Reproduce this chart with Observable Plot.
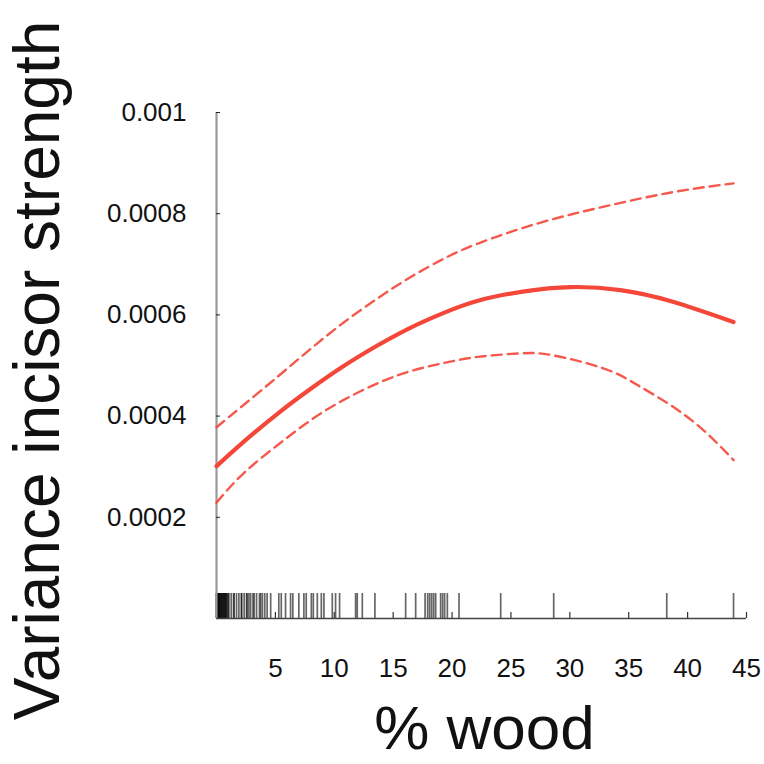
<!DOCTYPE html>
<html><head><meta charset="utf-8">
<script src="https://cdn.jsdelivr.net/npm/d3@7"></script>
<script src="https://cdn.jsdelivr.net/npm/@observablehq/plot@0.6"></script>
<style>body{margin:0;background:#fff} svg{display:block}</style>
</head><body><div id="chart"></div>
<script>
// fitted curve (x = % wood)
const fitX   = [0, 2.3, 5.2, 8, 10.8, 13.7, 16.5, 19.3, 22.2, 26, 30.1, 34.3, 38.6, 43.9];
const fitY   = [0.000301, 0.000349, 0.000405, 0.000454, 0.000499, 0.000540, 0.000575, 0.000604, 0.000628, 0.000646, 0.000655, 0.000649, 0.000627, 0.000586];
// upper confidence band
const upperX = [0, 2.3, 5.2, 8, 10.8, 13.7, 16.5, 19.3, 22.2, 27.3, 32.9, 38.6, 43.9];
const upperY = [0.000378, 0.000422, 0.000478, 0.000533, 0.000585, 0.000633, 0.000675, 0.000711, 0.000741, 0.000781, 0.000814, 0.000842, 0.000860];
// lower confidence band
const lowerX = [0, 2.3, 5.2, 8, 10.8, 13.7, 16.5, 19.3, 22.2, 25.8, 28.6, 32.9, 35.7, 38.6, 41.4, 43.9];
const lowerY = [0.000229, 0.000287, 0.000343, 0.000392, 0.000432, 0.000465, 0.000489, 0.000505, 0.000517, 0.000524, 0.000520, 0.000494, 0.000462, 0.000421, 0.000371, 0.000313];
// rug of observed % wood values
const rugX = [0, 0, 0.02, 0.05, 0.08, 0.1, 0.15, 0.2, 0.22, 0.25, 0.3, 0.35, 0.4, 0.45, 0.5, 0.55, 0.6, 0.65, 0.7, 0.75, 0.8, 0.85, 0.9, 1.0, 1.05,
  1.25, 1.45, 1.5, 1.7, 1.9, 2.1, 2.15, 2.35, 2.55, 2.6, 2.75, 2.9, 3.1, 3.2, 3.4, 3.65, 3.75, 3.9, 4.1, 4.3, 4.6,
  5.29, 5.5, 5.86, 6.29, 6.48, 6.99, 7.42, 7.62, 8.05, 8.22, 8.56, 8.9, 9.12, 9.83, 10.11, 10.45,
  11.81, 11.95, 12.38, 13.45, 16.06, 16.91, 17.71, 17.93, 18.1, 18.27, 18.44, 18.61, 19.03, 19.2, 19.37, 19.6,
  20.59, 24.13, 28.63, 38.23, 43.9];
const xTicks = [5, 10, 15, 20, 25, 30, 35, 40, 45];
const yTicks = [0.0002, 0.0004, 0.0006, 0.0008, 0.001];
const yTickLabels = ["0.0002", "0.0004", "0.0006", "0.0008", "0.001"];
const xLabel = "% wood";
const yLabel = "Variance incisor strength";

const fit = fitX.map((x, i) => ({x, y: fitY[i]}));
const upper = upperX.map((x, i) => ({x, y: upperY[i]}));
const lower = lowerX.map((x, i) => ({x, y: lowerY[i]}));

const red = "#f4473a";
const chart = Plot.plot({
  width: 764, height: 764,
  marginLeft: 216, marginRight: 18, marginTop: 112, marginBottom: 146,
  x: {domain: [0, 45]},
  y: {domain: [0, 0.001]},
  style: {fontFamily: "'Liberation Sans', Arial, sans-serif", background: "#fff", color: "#111"},
  marks: [
    Plot.tickX(rugX, {x: d => d, stroke: "#000", strokeOpacity: 0.6, strokeWidth: 1.7, insetTop: 481}),
    Plot.ruleX([0], {stroke: "#999", strokeWidth: 2.2}),
    Plot.ruleY([0], {stroke: "#444", strokeWidth: 1.4}),
    Plot.tickX(xTicks, {x: d => d, stroke: "#333", strokeWidth: 1.2, insetTop: 500}),
    Plot.tickY(yTicks, {y: d => d, stroke: "#222", strokeWidth: 1, insetRight: 526}),
    Plot.axisX({ticks: xTicks, tickSize: 0, tickPadding: 40, fontSize: 26, label: null}),
    Plot.axisY({ticks: yTicks, tickSize: 0, tickPadding: 30, fontSize: 26, label: null,
      tickFormat: d => yTickLabels[yTicks.indexOf(d)]}),
    Plot.line(upper, {x: "x", y: "y", stroke: red, strokeOpacity: 0.9, strokeWidth: 2.4, strokeDasharray: "10,6", curve: "natural"}),
    Plot.line(lower, {x: "x", y: "y", stroke: red, strokeOpacity: 0.9, strokeWidth: 2.4, strokeDasharray: "10,6", curve: "natural"}),
    Plot.line(fit, {x: "x", y: "y", stroke: red, strokeWidth: 4.2, curve: "natural"}),
    Plot.text([xLabel], {frameAnchor: "bottom", dx: 3, dy: 111, fontSize: 62, lineAnchor: "middle", fill: "#111"}),
    Plot.text([yLabel], {frameAnchor: "left", rotate: -90, dx: -178, dy: 5, fontSize: 64, lineAnchor: "middle", textAnchor: "middle", fill: "#111"})
  ]
});
document.getElementById("chart").appendChild(chart);
</script>
</body></html>
